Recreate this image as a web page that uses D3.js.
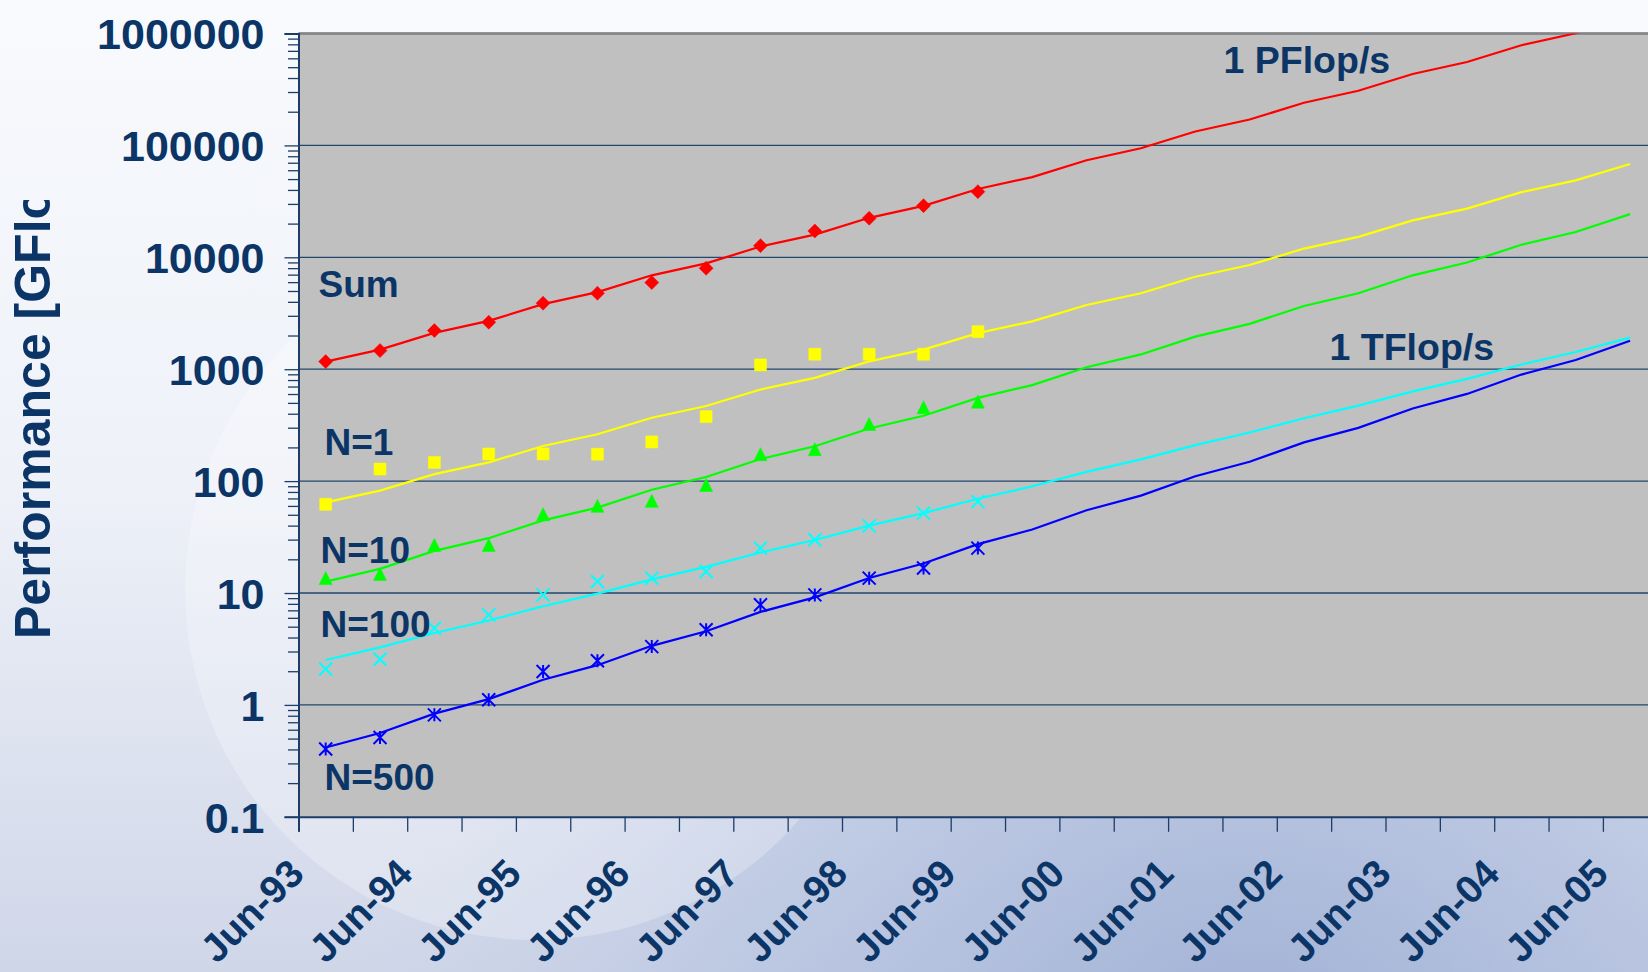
<!DOCTYPE html>
<html>
<head>
<meta charset="utf-8">
<script src="https://cdn.jsdelivr.net/npm/d3@7"></script>
<style>
  html, body { margin: 0; padding: 0; overflow: hidden; background: #eef2f8; }
  svg { display: block; font-family: "Liberation Sans", Arial, sans-serif; font-weight: bold; }
</style>
</head>
<body>
<svg id="chart"></svg>
<script>
// One category per TOP500 list, Jun-93 .. Jun-05
const lists = ["Jun-93", "Nov-93", "Jun-94", "Nov-94", "Jun-95", "Nov-95", "Jun-96", "Nov-96",
               "Jun-97", "Nov-97", "Jun-98", "Nov-98", "Jun-99", "Nov-99", "Jun-00", "Nov-00",
               "Jun-01", "Nov-01", "Jun-02", "Nov-02", "Jun-03", "Nov-03", "Jun-04", "Nov-04", "Jun-05"];

const yTickValues = [0.1, 1, 10, 100, 1000, 10000, 100000, 1000000];
const yTickLabels = ["0.1", "1", "10", "100", "1000", "10000", "100000", "1000000"];

// measured performance [GFlop/s], Jun-93 .. Jun-99
const sumMeasured  = [1169, 1466, 2213, 2630, 3890, 4775, 5940, 7985, 12710, 17190, 22340, 28940, 38620];
const n1Measured   = [62, 128, 147, 175, 175, 174, 224, 377, 1092, 1361, 1361, 1361, 2166];
const n10Measured  = [13.6, 14.8, 26.9, 26.9, 50.6, 60.1, 66.6, 92.5, 174, 193, 324, 457, 513];
const n100Measured = [2.09, 2.56, 4.85, 6.38, 9.62, 12.65, 13.58, 15.55, 25.2, 29.9, 39.8, 51.7, 65.6];
const n500Measured = [0.403, 0.511, 0.815, 1.11, 1.99, 2.48, 3.32, 4.69, 7.84, 9.62, 13.58, 16.7, 25.2];

// trend lines (extrapolated), Jun-93 .. Jun-05
const sumTrend  = [1170, 1496, 2113, 2704, 3819, 4887, 6902, 8831, 12470, 15960, 22540, 28840, 40740,
                   52120, 73620, 94190, 133000, 170200, 240400, 307600, 434500, 555900, 785200, 1004600, 1419000];
const n1Trend   = [64.6, 82.2, 115.3, 146.9, 206.1, 262.4, 368.1, 468.8, 657.7, 837.5, 1175, 1496, 2099,
                   2673, 3750, 4775, 6699, 8531, 11970, 15240, 21380, 27230, 38190, 48640, 68230];
const n10Trend  = [12.65, 16.44, 23.77, 30.9, 44.57, 57.94, 83.75, 108.9, 157.4, 204.6, 295.1, 383.7, 554.6,
                   721.1, 1042, 1355, 1954, 2541, 3673, 4775, 6902, 8974, 12940, 16830, 24320];
const n100Trend = [2.52, 3.27, 4.39, 5.68, 7.62, 9.86, 13.24, 17.14, 23.01, 29.79, 40.0, 51.76, 69.5,
                   89.9, 120.8, 156.3, 209.9, 271.6, 364.8, 472.1, 633.9, 820.4, 1102, 1426, 1914];
const n500Trend = [0.416, 0.561, 0.836, 1.127, 1.679, 2.265, 3.373, 4.55, 6.776, 9.141, 13.61, 18.37, 27.35,
                   36.9, 54.95, 74.13, 110.4, 148.9, 221.8, 299.2, 445.6, 601.2, 895.4, 1208, 1799];

const seriesNames = ["Sum", "N=1", "N=10", "N=100", "N=500"];
const notes = ["1 PFlop/s", "1 TFlop/s"];

// marker shapes (size = full width in px)
const markerTypes = {
    diamond: { draw(c, s) { const r = s / 2; c.moveTo(0, -r); c.lineTo(r, 0); c.lineTo(0, r); c.lineTo(-r, 0); c.closePath(); } },
    square:  { draw(c, s) { const r = s / 2; c.rect(-r, -r, s, s); } },
    triangle:{ draw(c, s) { const r = s / 2; c.moveTo(0, -r); c.lineTo(r, r); c.lineTo(-r, r); c.closePath(); } },
    cross:   { draw(c, s) { const r = s / 2; c.moveTo(-r, -r); c.lineTo(r, r); c.moveTo(-r, r); c.lineTo(r, -r); } },
    star:    { draw(c, s) { const r = s / 2; c.moveTo(-r, -r); c.lineTo(r, r); c.moveTo(-r, r); c.lineTo(r, -r); c.moveTo(0, -r); c.lineTo(0, r); } }
};

class PerfChart {
    constructor(_config) {
        this.config = {
            parentElement: _config.parentElement,
            containerWidth: 1648,
            containerHeight: 972,
            margin: { top: 33.5, left: 298.5 },
            bandWidth: 54.35,
            plotHeight: 783.3
        };
        this.initVis();
    }

    initVis() {
        let vis = this;
        const cfg = vis.config;

        vis.width = cfg.bandWidth * lists.length;
        vis.height = cfg.plotHeight;

        vis.svg = d3.select(cfg.parentElement)
            .attr('width', cfg.containerWidth)
            .attr('height', cfg.containerHeight);

        const defs = vis.svg.append('defs');

        // slide background: light top, bluish bottom right, a pale disc on the left
        const bgV = defs.append('linearGradient').attr('id', 'bgV')
            .attr('x1', 0).attr('y1', 0).attr('x2', 0).attr('y2', 1);
        bgV.append('stop').attr('offset', 0).attr('stop-color', '#f8fafd');
        bgV.append('stop').attr('offset', 0.5).attr('stop-color', '#eef1f8');
        bgV.append('stop').attr('offset', 1).attr('stop-color', '#cfd6e8');

        const bgR = defs.append('radialGradient').attr('id', 'bgR')
            .attr('gradientUnits', 'userSpaceOnUse')
            .attr('cx', 1250).attr('cy', 1050).attr('r', 900);
        bgR.append('stop').attr('offset', 0).attr('stop-color', '#93a6d0').attr('stop-opacity', 0.75);
        bgR.append('stop').attr('offset', 0.6).attr('stop-color', '#9fb1d8').attr('stop-opacity', 0.35);
        bgR.append('stop').attr('offset', 1).attr('stop-color', '#b8c6e2').attr('stop-opacity', 0);

        defs.append('clipPath').attr('id', 'plotClip')
            .append('rect').attr('width', vis.width).attr('height', vis.height);

        defs.append('clipPath').attr('id', 'titleClip')
            .append('rect').attr('x', 0).attr('y', 200).attr('width', 290).attr('height', 772);

        vis.svg.append('rect').attr('width', cfg.containerWidth).attr('height', cfg.containerHeight)
            .attr('fill', 'url(#bgV)');
        vis.svg.append('rect').attr('width', cfg.containerWidth).attr('height', cfg.containerHeight)
            .attr('fill', 'url(#bgR)');
        vis.svg.append('circle')
            .attr('cx', 535).attr('cy', 590).attr('r', 350)
            .attr('fill', '#ffffff').attr('opacity', 0.25);

        vis.chart = vis.svg.append('g')
            .attr('transform', `translate(${cfg.margin.left},${cfg.margin.top})`);

        // scales: x on list index (ticks between lists), y logarithmic
        vis.xScale = d3.scaleLinear()
            .domain([0, lists.length])
            .range([0, vis.width]);

        vis.yScale = d3.scaleLog()
            .domain([0.1, 1000000])
            .range([vis.height, 0]);

        vis.xAxis = d3.axisBottom(vis.xScale)
            .tickValues(d3.range(0, lists.length))
            .tickSize(15)
            .tickFormat(i => lists[i].startsWith('Jun') ? lists[i] : '');

        vis.yAxis = d3.axisLeft(vis.yScale)
            .tickValues(yTickValues)
            .tickSize(14)
            .tickPadding(20)
            .tickFormat((d, i) => yTickLabels[i]);

        vis.yMinor = d3.axisLeft(vis.yScale)
            .tickValues(vis.yScale.ticks().filter(d => !yTickValues.includes(d)))
            .tickSize(10.5)
            .tickFormat('');

        vis.chart.append('rect')
            .attr('width', vis.width)
            .attr('height', vis.height)
            .attr('fill', '#c0c0c0');

        vis.gridG = vis.chart.append('g').attr('class', 'grid');
        vis.xAxisG = vis.chart.append('g').attr('class', 'axis x-axis')
            .attr('transform', `translate(0,${vis.height})`);
        vis.yMinorG = vis.chart.append('g').attr('class', 'axis y-minor');
        vis.yAxisG = vis.chart.append('g').attr('class', 'axis y-axis');
        vis.marks = vis.chart.append('g').attr('clip-path', 'url(#plotClip)');
        vis.labelG = vis.chart.append('g');

        vis.updateVis();
    }

    updateVis() {
        let vis = this;

        vis.series = [
            { name: seriesNames[0], measured: sumMeasured,  trend: sumTrend,  color: '#ff0000', marker: 'diamond',  size: 14, fill: true },
            { name: seriesNames[1], measured: n1Measured,   trend: n1Trend,   color: '#ffff00', marker: 'square',   size: 12, fill: true },
            { name: seriesNames[2], measured: n10Measured,  trend: n10Trend,  color: '#00ff00', marker: 'triangle', size: 13, fill: true },
            { name: seriesNames[3], measured: n100Measured, trend: n100Trend, color: '#00ffff', marker: 'cross',    size: 13, fill: false },
            { name: seriesNames[4], measured: n500Measured, trend: n500Trend, color: '#0000ff', marker: 'star',     size: 13, fill: false }
        ];

        vis.xValue = (d, i) => vis.xScale(i + 0.5);
        vis.yValue = d => vis.yScale(d);

        vis.renderVis();
    }

    renderVis() {
        let vis = this;
        const navy = '#0b3566';

        // gridlines at decades
        vis.gridG.selectAll('line')
            .data(yTickValues.slice(1))
            .join('line')
            .attr('x1', 0).attr('x2', vis.width)
            .attr('y1', d => vis.yScale(d)).attr('y2', d => vis.yScale(d))
            .attr('stroke', '#23466f').attr('stroke-width', 1.3);

        // top border of plot
        vis.gridG.append('line')
            .attr('x1', 0).attr('x2', vis.width).attr('y1', 0).attr('y2', 0)
            .attr('stroke', '#858585').attr('stroke-width', 2.5);

        vis.xAxisG.call(vis.xAxis);
        vis.yMinorG.call(vis.yMinor);
        vis.yAxisG.call(vis.yAxis);

        vis.chart.selectAll('.axis path.domain').attr('stroke', '#1d3d68').attr('stroke-width', 2);
        vis.chart.selectAll('.axis .tick line').attr('stroke', '#1d3d68').attr('stroke-width', 1.3);
        vis.yMinorG.select('path.domain').remove();

        vis.yAxisG.selectAll('text')
            .attr('fill', navy)
            .attr('font-size', 43)
            .attr('dy', '0.36em');

        vis.xAxisG.selectAll('text')
            .attr('fill', navy)
            .attr('font-size', 39)
            .attr('y', 0).attr('dy', 0)
            .attr('text-anchor', 'end')
            .attr('transform', 'translate(7,59) rotate(-45)');

        // trend lines
        const line = d3.line()
            .x((d, i) => vis.xValue(d, i))
            .y(d => vis.yValue(d));

        vis.marks.selectAll('path.trend')
            .data(vis.series)
            .join('path')
            .attr('class', 'trend')
            .attr('d', d => line(d.trend))
            .attr('fill', 'none')
            .attr('stroke', d => d.color)
            .attr('stroke-width', 2.2);

        // measured markers
        const symbol = d3.symbol();
        vis.marks.selectAll('g.markers')
            .data(vis.series)
            .join('g')
            .attr('class', 'markers')
            .each(function(s) {
                d3.select(this).selectAll('path')
                    .data(s.measured)
                    .join('path')
                    .attr('transform', (d, i) => `translate(${vis.xValue(d, i)},${vis.yValue(d)})`)
                    .attr('d', symbol.type(markerTypes[s.marker]).size(s.size)())
                    .attr('fill', s.fill ? s.color : 'none')
                    .attr('stroke', s.color)
                    .attr('stroke-width', s.fill ? 0.5 : 2);
            });

        // in-plot labels
        const labelPos = [[20, 263], [26, 421.5], [22, 529.5], [22, 603.5], [26, 756.5]];
        vis.labelG.selectAll('text.series-label')
            .data(seriesNames)
            .join('text')
            .attr('class', 'series-label')
            .attr('x', (d, i) => labelPos[i][0])
            .attr('y', (d, i) => labelPos[i][1])
            .attr('fill', navy)
            .attr('font-size', 37)
            .text(d => d);

        const notePos = [[925, 39.5], [1031, 326.5]];
        vis.labelG.selectAll('text.note')
            .data(notes)
            .join('text')
            .attr('class', 'note')
            .attr('x', (d, i) => notePos[i][0])
            .attr('y', (d, i) => notePos[i][1])
            .attr('fill', navy)
            .attr('font-size', 37.5)
            .text(d => d);

        // y axis title (cut off in the original slide)
        vis.svg.append('g')
            .attr('clip-path', 'url(#titleClip)')
            .append('text')
            .attr('transform', 'translate(50,639) rotate(-90)')
            .attr('fill', navy)
            .attr('font-size', 50)
            .text('Performance [GFlop/s]');
    }
}

const chart = new PerfChart({ parentElement: '#chart' });
</script>
</body>
</html>
